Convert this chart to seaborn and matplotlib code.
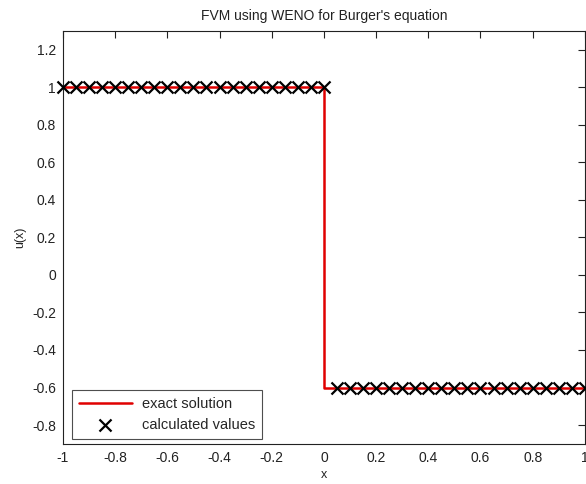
import numpy as np
import pandas as pd
import matplotlib
matplotlib.use("Agg")
import matplotlib.pyplot as plt
import seaborn as sns

# exact solution (shock at x = 0)
exact_x = [-1.0, 0.0, 0.0, 1.0]
exact_u = [1.0, 1.0, -0.6, -0.6]

# calculated values from the FVM / WENO scheme
calc_x = [-1.0, -0.95, -0.9, -0.85, -0.8, -0.75, -0.7, -0.65, -0.6, -0.55,
          -0.5, -0.45, -0.4, -0.35, -0.3, -0.25, -0.2, -0.15, -0.1, -0.05,
          0.0, 0.05, 0.1, 0.15, 0.2, 0.25, 0.3, 0.35, 0.4, 0.45,
          0.5, 0.55, 0.6, 0.65, 0.7, 0.75, 0.8, 0.85, 0.9, 0.95, 1.0]
calc_u = [1.0] * 21 + [-0.6] * 20

x_ticks = [-1, -0.8, -0.6, -0.4, -0.2, 0, 0.2, 0.4, 0.6, 0.8, 1]
y_ticks = [-0.8, -0.6, -0.4, -0.2, 0, 0.2, 0.4, 0.6, 0.8, 1, 1.2]

sns.set_style("white")
plt.rcParams["font.family"] = ["Liberation Sans", "DejaVu Sans"]
plt.rcParams["axes.unicode_minus"] = False

exact_df = pd.DataFrame({"x": exact_x, "u": exact_u})
calc_df = pd.DataFrame({"x": calc_x, "u": calc_u})

fig = plt.figure(figsize=(5.86, 4.84), dpi=100)
ax = fig.add_axes([0.1075, 0.083, 0.8905, 0.853])

sns.lineplot(data=exact_df, x="x", y="u", sort=False, estimator=None,
             color="#e00000", linewidth=1.8, label="exact solution", ax=ax,
             zorder=2)
sns.scatterplot(data=calc_df, x="x", y="u", marker="x", color="black", s=75,
                linewidth=1.6, label="calculated values", ax=ax, zorder=3,
                clip_on=False)

ax.set_xlim(-1, 1)
ax.set_ylim(-0.9, 1.3)
ax.set_xticks(x_ticks)
ax.set_yticks(y_ticks)
ax.set_xticklabels(["%g" % t for t in x_ticks])
ax.set_yticklabels(["%g" % t for t in y_ticks])
ax.tick_params(direction="in", length=5, width=0.8, top=True, right=True,
               labelsize=10, colors="#222222", labelcolor="#222222", pad=5)
for sp in ax.spines.values():
    sp.set_visible(True)
    sp.set_color("#222222")
    sp.set_linewidth(0.8)

ax.set_title("FVM using WENO for Burger's equation", fontsize=10, pad=8,
             color="#222222")
ax.set_xlabel("x", fontsize=9, color="#222222", labelpad=3)
ax.set_ylabel("u(x)", fontsize=9, color="#222222", labelpad=4)

leg = ax.legend(loc="lower left", bbox_to_anchor=(0.017, 0.012),
                borderaxespad=0, fontsize=10.5, frameon=True, fancybox=False,
                handlelength=3.6, handletextpad=0.7, borderpad=0.5,
                labelspacing=0.45)
leg.get_frame().set_edgecolor("#222222")
leg.get_frame().set_linewidth(0.8)

fig.savefig("out.png", dpi=100)
